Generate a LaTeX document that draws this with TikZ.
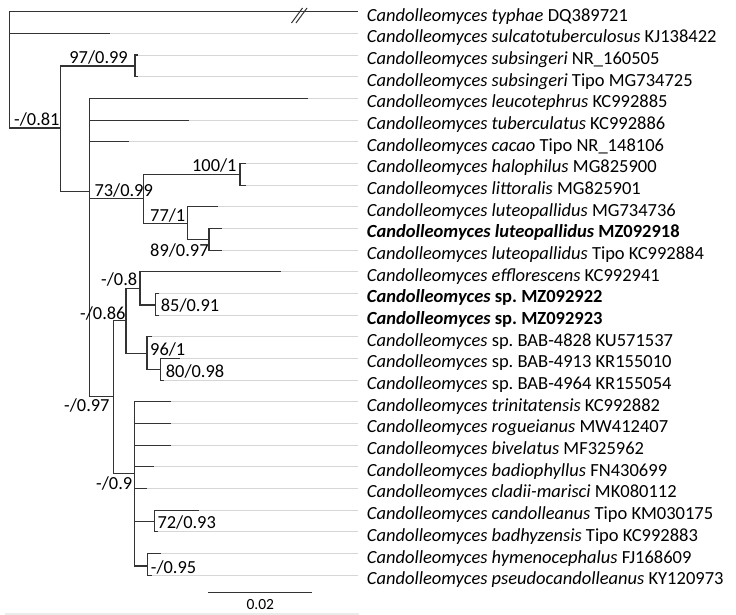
\documentclass[tikz,border=0pt]{standalone}
\usepackage{fontspec}
\setmainfont{Carlito}
\frenchspacing
\begin{document}
\begin{tikzpicture}[x=1pt,y=-1pt,
  br/.style={draw=black!80, line width=1.1pt},
  leader/.style={draw=black!16, line width=0.9pt, shorten >=8.4pt},
  lab/.style={anchor=base west, inner sep=0pt, font=\fontsize{18.5}{21}\selectfont},
  supp/.style={inner sep=0pt, font=\fontsize{18.4}{21}\selectfont},
  breakmark/.style={draw=black!80, line width=1pt}]
\useasboundingbox (0,0) rectangle (736,615);

% label nodes
\node[lab] (l0)  at (366.7, 21.2) {\textit{Candolleomyces typhae} DQ389721};
\node[lab] (l1)  at (366.7, 42.9) {\textit{Candolleomyces sulcatotuberculosus} KJ138422};
\node[lab] (l2)  at (366.7, 64.5) {\textit{Candolleomyces subsingeri} NR\_160505};
\node[lab] (l3)  at (366.7, 86.2) {\textit{Candolleomyces subsingeri} Tipo MG734725};
\node[lab] (l4)  at (366.7,107.9) {\textit{Candolleomyces leucotephrus} KC992885};
\node[lab] (l5)  at (366.7,129.6) {\textit{Candolleomyces tuberculatus} KC992886};
\node[lab] (l6)  at (366.7,151.2) {\textit{Candolleomyces cacao} Tipo NR\_148106};
\node[lab] (l7)  at (366.7,172.9) {\textit{Candolleomyces halophilus} MG825900};
\node[lab] (l8)  at (366.7,194.6) {\textit{Candolleomyces littoralis} MG825901};
\node[lab] (l9)  at (366.7,216.2) {\textit{Candolleomyces luteopallidus} MG734736};
\node[lab] (l10) at (366.7,237.9) {\textbf{\textit{Candolleomyces luteopallidus} MZ092918}};
\node[lab] (l11) at (366.7,259.6) {\textit{Candolleomyces luteopallidus} Tipo KC992884};
\node[lab] (l12) at (366.7,281.2) {\textit{Candolleomyces efflorescens} KC992941};
\node[lab] (l13) at (366.7,302.9) {\textbf{\textit{Candolleomyces} sp. MZ092922}};
\node[lab] (l14) at (366.7,324.6) {\textbf{\textit{Candolleomyces} sp. MZ092923}};
\node[lab] (l15) at (366.7,346.3) {\textit{Candolleomyces} sp. BAB-4828 KU571537};
\node[lab] (l16) at (366.7,367.9) {\textit{Candolleomyces} sp. BAB-4913 KR155010};
\node[lab] (l17) at (366.7,389.6) {\textit{Candolleomyces} sp. BAB-4964 KR155054};
\node[lab] (l18) at (366.7,411.3) {\textit{Candolleomyces trinitatensis} KC992882};
\node[lab] (l19) at (366.7,432.9) {\textit{Candolleomyces rogueianus} MW412407};
\node[lab] (l20) at (366.7,454.6) {\textit{Candolleomyces bivelatus} MF325962};
\node[lab] (l21) at (366.7,476.3) {\textit{Candolleomyces badiophyllus} FN430699};
\node[lab] (l22) at (366.7,497.9) {\textit{Candolleomyces cladii-marisci} MK080112};
\node[lab] (l23) at (366.7,519.6) {\textit{Candolleomyces candolleanus} Tipo KM030175};
\node[lab] (l24) at (366.7,541.3) {\textit{Candolleomyces badhyzensis} Tipo KC992883};
\node[lab] (l25) at (366.7,563.0) {\textit{Candolleomyces hymenocephalus} FJ168609};
\node[lab] (l26) at (366.7,584.6) {\textit{Candolleomyces pseudocandolleanus} KY120973};

% tips
\coordinate (t0)  at (358.3, 11.7);
\coordinate (t1)  at (110.0, 33.4);
\coordinate (t2)  at (138.0, 55.0);
\coordinate (t3)  at (138.0, 76.7);
\coordinate (t4)  at (308.0, 98.4);
\coordinate (t5)  at (189.0,120.1);
\coordinate (t6)  at (129.0,141.7);
\coordinate (t7)  at (245.7,163.4);
\coordinate (t8)  at (245.7,185.1);
\coordinate (t9)  at (218.3,206.7);
\coordinate (t10) at (221.7,228.4);
\coordinate (t11) at (221.7,250.1);
\coordinate (t12) at (281.0,271.7);
\coordinate (t13) at (158.5,293.4);
\coordinate (t14) at (158.5,315.1);
\coordinate (t15) at (151.7,336.8);
\coordinate (t16) at (180.0,358.4);
\coordinate (t17) at (164.0,380.1);
\coordinate (t18) at (171.0,401.8);
\coordinate (t19) at (171.0,423.4);
\coordinate (t20) at (171.0,445.1);
\coordinate (t21) at (154.0,466.8);
\coordinate (t22) at (146.7,488.4);
\coordinate (t23) at (199.0,510.1);
\coordinate (t24) at (158.3,531.8);
\coordinate (t25) at (160.7,553.5);
\coordinate (t26) at (152.3,575.1);

% internal nodes
\coordinate (R)   at (9.3, 70);
\coordinate (A)   at (60.7,128);
\coordinate (S)   at (135.0,66);
\coordinate (B)   at (89.3,191.7);
\coordinate (C)   at (143.3,198.3);
\coordinate (H)   at (240.0,174.3);
\coordinate (E)   at (187.7,223.3);
\coordinate (F)   at (209.0,239.3);
\coordinate (D)   at (113.3,396.7);
\coordinate (G)   at (126.0,320.7);
\coordinate (N8)  at (140.0,288.3);
\coordinate (N85) at (155.7,305.0);
\coordinate (I)   at (147.0,353.3);
\coordinate (J)   at (160.7,369.3);
\coordinate (K)   at (134.3,473.3);
\coordinate (N72) at (154.3,521.7);
\coordinate (N95) at (147.7,566.0);

% leader lines
\foreach \i in {1,...,26} \draw[leader] (t\i) -- (t\i -| l\i.west);

% branches
\draw[br] (R) |- (t0);
\draw[br] (R) |- (t1);
\draw[br] (R) |- (A);
\draw[br] (A) |- (S);
\draw[br] (A) |- (B);
\draw[br] (S) |- (t2);
\draw[br] (S) |- (t3);
\draw[br] (B) |- (t4);
\draw[br] (B) |- (t5);
\draw[br] (B) |- (t6);
\draw[br] (B) |- (C);
\draw[br] (B) |- (D);
\draw[br] (C) |- (H);
\draw[br] (C) |- (E);
\draw[br] (H) |- (t7);
\draw[br] (H) |- (t8);
\draw[br] (E) |- (t9);
\draw[br] (E) |- (F);
\draw[br] (F) |- (t10);
\draw[br] (F) |- (t11);
\draw[br] (D) |- (G);
\draw[br] (D) |- (K);
\draw[br] (G) |- (N8);
\draw[br] (G) |- (I);
\draw[br] (N8) |- (t12);
\draw[br] (N8) |- (N85);
\draw[br] (N85) |- (t13);
\draw[br] (N85) |- (t14);
\draw[br] (I) |- (t15);
\draw[br] (I) |- (J);
\draw[br] (J) |- (t16);
\draw[br] (J) |- (t17);
\draw[br] (K) |- (t18);
\draw[br] (K) |- (t19);
\draw[br] (K) |- (t20);
\draw[br] (K) |- (t21);
\draw[br] (K) |- (t22);
\draw[br] (K) |- (N72);
\draw[br] (K) |- (N95);
\draw[br] (N72) |- (t23);
\draw[br] (N72) |- (t24);
\draw[br] (N95) |- (t25);
\draw[br] (N95) |- (t26);

% break mark on the long branch
\draw[breakmark] (291.5,23) -- (302.5,8);
\draw[breakmark] (296,23) -- (307,8);

% support values
\node[supp, anchor=base east] (s1)  at (128.0, 64.0) {97/0.99};
\node[supp, anchor=base west] (s2)  at (14.0,126.0) {-/0.81};
\node[supp, anchor=base east] (s3)  at (236.7,171.7) {100/1};
\node[supp, anchor=base west] (s4)  at (94.3,196.7) {73/0.99};
\node[supp, anchor=base west] (s5)  at (150.0,221.0) {77/1};
\node[supp, anchor=base west] (s6)  at (150.0,256.0) {89/0.97};
\node[supp, anchor=base west] (s7)  at (101.0,285.0) {-/0.8};
\node[supp, anchor=base west] (s8)  at (160.7,311.0) {85/0.91};
\node[supp, anchor=base west] (s9)  at (80.0,319.0) {-/0.86};
\node[supp, anchor=base west] (s10) at (150.0,355.0) {96/1};
\node[supp, anchor=base west] (s11) at (165.7,377.7) {80/0.98};
\node[supp, anchor=base west] (s12) at (64.0,411.0) {-/0.97};
\node[supp, anchor=base west] (s13) at (96.0,489.3) {-/0.9};
\node[supp, anchor=base west] (s14) at (157.3,528.3) {72/0.93};
\node[supp, anchor=base west] (s15) at (150.7,573.3) {-/0.95};

% scale bar
\coordinate (sbL) at (208.3,592.3);
\coordinate (sbR) at (312.3,592.3);
\draw[br] (sbL) -- (sbR);
\node[inner sep=0pt, anchor=base, font=\fontsize{15.5}{17}\selectfont] (sbt) at (260.3,609.3) {0.02};

% faint bottom rule
\coordinate (bl) at (5,613.5);
\coordinate (brr) at (359,613.5);
\draw[draw=black!8, line width=2pt] (bl) -- (brr);
\end{tikzpicture}
\end{document}
